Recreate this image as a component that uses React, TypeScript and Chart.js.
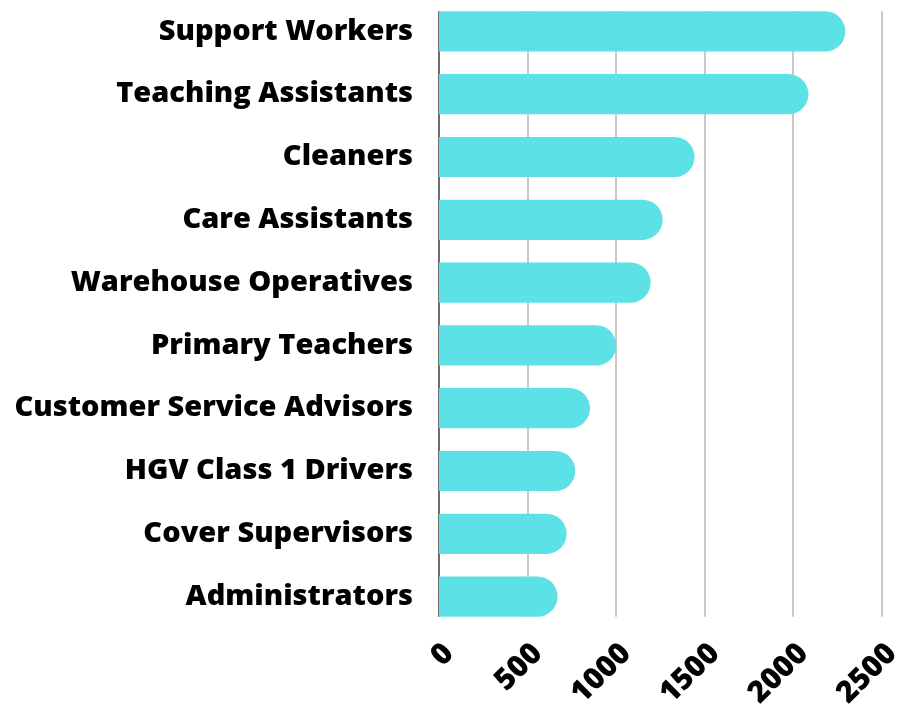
import React, { useEffect, useRef } from "react";
import { Chart, registerables } from "chart.js";

Chart.register(...registerables);

const categories = [
  "Support Workers",
  "Teaching Assistants",
  "Cleaners",
  "Care Assistants",
  "Warehouse Operatives",
  "Primary Teachers",
  "Customer Service Advisors",
  "HGV Class 1 Drivers",
  "Cover Supervisors",
  "Administrators",
];
const values = [2293, 2085, 1442, 1262, 1194, 1000, 852, 769, 720, 669];
const tickValues = [0, 500, 1000, 1500, 2000, 2500];

const FONT = "'Open Sans'";

const gridPlugin = {
  id: "customGrid",
  beforeDatasetsDraw(chart: any) {
    const meta = chart.getDatasetMeta(0);
    if (!meta.data.length) return;
    const first = meta.data[0].getProps(["y", "height"], true);
    const last = meta.data[meta.data.length - 1].getProps(["y", "height"], true);
    const top = first.y - first.height / 2;
    const bottom = last.y + last.height / 2;
    const xs = chart.scales.x;
    const ctx = chart.ctx;
    ctx.save();
    xs.ticks.forEach((t: any) => {
      const px = Math.round(xs.getPixelForValue(t.value));
      ctx.beginPath();
      ctx.lineWidth = 2;
      ctx.strokeStyle = t.value === 0 ? "#6e6e6e" : "#c8c8c8";
      ctx.moveTo(px, top);
      ctx.lineTo(px, bottom);
      ctx.stroke();
    });
    ctx.restore();
  },
};

function zeroPad(scale: any) {
  scale.paddingTop = 0;
  scale.paddingBottom = 0;
  scale.paddingLeft = 0;
  scale.paddingRight = 0;
}

export default function App() {
  const ref = useRef<HTMLCanvasElement>(null);
  useEffect(() => {
    document.body.style.margin = "0";
    const chart = new Chart(ref.current!, {
      type: "bar",
      data: {
        labels: categories,
        datasets: [
          {
            data: values,
            backgroundColor: "#5CE1E6",
            borderRadius: 20,
            borderSkipped: "start",
            categoryPercentage: 1,
            barPercentage: 0.64,
          },
        ],
      },
      options: {
        indexAxis: "y",
        animation: false,
        responsive: true,
        maintainAspectRatio: false,
        layout: { autoPadding: false, padding: { top: 0, right: 17, left: 0, bottom: 0 } },
        plugins: { legend: { display: false }, tooltip: { enabled: false } },
        scales: {
          x: {
            min: 0,
            max: 2500,
            afterBuildTicks(scale: any) {
              scale.ticks = tickValues.map((v) => ({ value: v }));
            },
            grid: { display: false, drawTicks: false },
            border: { display: false },
            ticks: {
              color: "#000",
              font: { family: FONT, size: 30, weight: "800" },
              minRotation: 45,
              maxRotation: 45,
              padding: 8,
              labelOffset: 10,
              autoSkip: false,
              callback: (v: any) => String(v),
            },
            afterFit(scale: any) {
              scale.height = 80;
              zeroPad(scale);
            },
          },
          y: {
            grid: { display: false, drawTicks: false },
            border: { display: false },
            ticks: {
              color: "#000",
              font: { family: FONT, size: 29, weight: "800" },
              padding: 26,
              autoSkip: false,
            },
            afterFit(scale: any) {
              scale.width = 439;
              zeroPad(scale);
            },
          },
        },
      },
      plugins: [gridPlugin],
    });
    return () => chart.destroy();
  }, []);
  return (
    <div style={{ width: 899, height: 708, position: "relative" }}>
      <canvas ref={ref} />
    </div>
  );
}
